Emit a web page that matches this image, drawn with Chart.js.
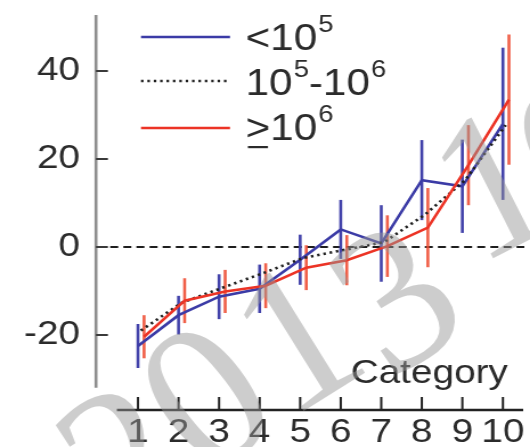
<!DOCTYPE html>
<html>
<head>
<meta charset="utf-8">
<script src="https://cdn.jsdelivr.net/npm/chart.js@4/dist/chart.umd.min.js"></script>
<style>
  html, body { margin: 0; padding: 0; background: #fff; overflow: hidden; }
  #wrap { width: 465px; height: 447px; transform-origin: 0 0; transform: scaleX(1.1398); }
  canvas { display: block; }
</style>
</head>
<body>
<div id="wrap"><canvas id="c" width="465" height="447" style="width:465px;height:447px"></canvas></div>
<script>
// Category positions and tick values
const categories = [1, 2, 3, 4, 5, 6, 7, 8, 9, 10];
const yTicks = [-20, 0, 20, 40];

// Group means with their error half-widths
const lowMean  = [-22.5, -15.5, -11.3, -9.5, -2.9, 4.0, 0.8, 15.2, 13.8, 28.0];
const lowErr   = [5.0, 4.4, 5.1, 5.5, 5.7, 6.7, 8.7, 9.1, 10.6, 17.3];
const midMean  = [-19.0, -12.7, -9.3, -6.0, -2.5, -0.7, 1.1, 7.3, 15.2, 27.7];
const highMean = [-20.4, -12.2, -10.1, -8.8, -4.7, -3.0, 0.2, 4.4, 18.6, 33.5];
const highErr  = [4.9, 5.1, 4.9, 5.1, 5.1, 5.7, 7.0, 9.0, 9.1, 14.8];

const labelFont = 'Liberation Sans, Arimo, Arial, Helvetica, sans-serif';
const STRETCH = 530 / 465;

const BLUE = '#3b3ba6', BLUE_ERR = '#4242aa';
const RED = '#ec3325', RED_ERR = 'rgba(238,78,52,0.9)';

const toPoints = (vals, shift) => categories.map((c, i) => ({ x: c + shift, y: vals[i] }));

const decorations = {
  id: 'decorations',
  beforeDatasetsDraw(chart) {
    const { ctx, chartArea, scales: { x, y } } = chart;
    ctx.save();
    // dashed zero line
    ctx.strokeStyle = '#1e1e1e';
    ctx.lineWidth = 2;
    ctx.setLineDash([7, 4.5]);
    const y0 = y.getPixelForValue(0);
    ctx.beginPath();
    ctx.moveTo(chartArea.left + 1, y0);
    ctx.lineTo(chartArea.right + 1, y0);
    ctx.stroke();
    ctx.setLineDash([]);
    // vertical error bars, drawn from the back dataset to the front one
    for (let di = chart.data.datasets.length - 1; di >= 0; di--) {
      const ds = chart.data.datasets[di];
      if (!ds.errors) continue;
      ctx.strokeStyle = ds.errorColor;
      ctx.lineWidth = 2.6;
      ds.data.forEach((p, i) => {
        const px = x.getPixelForValue(p.x);
        ctx.beginPath();
        ctx.moveTo(px, y.getPixelForValue(p.y + ds.errors[i]));
        ctx.lineTo(px, y.getPixelForValue(p.y - ds.errors[i]));
        ctx.stroke();
      });
    }
    ctx.restore();
  },
  afterDatasetsDraw(chart) {
    const { ctx, chartArea, scales: { x, y } } = chart;
    ctx.save();
    // left axis line and inward ticks
    ctx.strokeStyle = '#8e8e8e';
    ctx.lineWidth = 2.6;
    ctx.beginPath();
    ctx.moveTo(chartArea.left, chartArea.top);
    ctx.lineTo(chartArea.left, y.getPixelForValue(-32));
    ctx.stroke();
    ctx.strokeStyle = '#3a3a3a';
    ctx.lineWidth = 2;
    y.ticks.forEach(t => {
      const py = y.getPixelForValue(t.value);
      ctx.beginPath();
      ctx.moveTo(chartArea.left, py);
      ctx.lineTo(chartArea.left + 10.5, py);
      ctx.stroke();
    });
    // bottom axis line and inward ticks
    ctx.strokeStyle = '#222';
    ctx.lineWidth = 2.4;
    ctx.beginPath();
    ctx.moveTo(x.getPixelForValue(0.48), chartArea.bottom);
    ctx.lineTo(chartArea.right, chartArea.bottom);
    ctx.stroke();
    ctx.lineWidth = 2;
    x.ticks.forEach(t => {
      const px = x.getPixelForValue(t.value);
      ctx.beginPath();
      ctx.moveTo(px, chartArea.bottom);
      ctx.lineTo(px, chartArea.bottom - 13);
      ctx.stroke();
    });
    // axis title
    ctx.fillStyle = '#2b2b2b';
    ctx.font = '34px ' + labelFont;
    ctx.textAlign = 'right';
    ctx.textBaseline = 'alphabetic';
    ctx.fillText('Category', x.getPixelForValue(10) + 4.4, chartArea.bottom - 27);

    // legend
    const ds = chart.data.datasets;
    const rows = [
      { set: ds[2], y: 37,  base: 50,  parts: [['<10', 0], ['5', 1]] },
      { set: ds[1], y: 81,  base: 95,  parts: [['10', 0], ['5', 1], ['-10', 0], ['6', 1]] },
      { set: ds[0], y: 128, base: 140, parts: [['>', 0, true], ['10', 0], ['6', 1]] }
    ];
    const x1 = 123.7, x2 = 201.8, tx = 215.5;
    ctx.textAlign = 'left';
    rows.forEach(r => {
      ctx.strokeStyle = r.set.borderColor;
      ctx.lineWidth = r.set.borderWidth;
      ctx.setLineDash(r.set.borderDash || []);
      ctx.beginPath();
      ctx.moveTo(x1, r.y);
      ctx.lineTo(x2, r.y);
      ctx.stroke();
      ctx.setLineDash([]);
      let cx = tx;
      r.parts.forEach(([txt, sup, underline]) => {
        ctx.font = (sup ? '24px ' : '37px ') + labelFont;
        ctx.fillStyle = '#2b2b2b';
        const by = sup ? r.base - 18 : r.base;
        if (sup) cx += 1;
        ctx.fillText(txt, cx, by);
        const w = ctx.measureText(txt).width;
        if (underline) ctx.fillRect(cx + 2, r.base + 6, w - 4, 2.2);
        cx += w;
      });
    });
    ctx.restore();
  },
  afterDraw(chart) {
    // faint rotated stamp across the figure
    const { ctx } = chart;
    const glyphs = [
      ['2', 122, 458, -33],
      ['0', 205, 396, -37],
      ['1', 296, 336, -32],
      ['3', 395, 297, -33],
      ['1', 492, 183, -27],
      ['0', 578, 150, -30]
    ];
    ctx.save();
    ctx.scale(1 / STRETCH, 1);
    ctx.fillStyle = 'rgba(150,150,150,0.48)';
    ctx.font = '205px Liberation Serif, Tinos, Times New Roman, serif';
    ctx.textAlign = 'center';
    ctx.textBaseline = 'alphabetic';
    glyphs.forEach(([ch, gx, gy, a]) => {
      ctx.save();
      ctx.translate(gx, gy);
      ctx.rotate(a * Math.PI / 180);
      ctx.fillText(ch, 0, 0.33 * 205);
      ctx.restore();
    });
    ctx.restore();
  }
};

new Chart(document.getElementById('c'), {
  type: 'line',
  data: {
    datasets: [
      { label: '≥10^6', data: toPoints(highMean, 0.15), errors: highErr, errorColor: RED_ERR,
        borderColor: RED, borderWidth: 2.6, pointRadius: 0, tension: 0, fill: false },
      { label: '10^5-10^6', data: toPoints(midMean, 0.07), borderColor: '#1e1e1e', borderWidth: 2.6,
        borderDash: [2.2, 3.4], pointRadius: 0, tension: 0, fill: false },
      { label: '<10^5', data: toPoints(lowMean, 0), errors: lowErr, errorColor: BLUE_ERR,
        borderColor: BLUE, borderWidth: 2.6, pointRadius: 0, tension: 0, fill: false }
    ]
  },
  options: {
    responsive: false,
    animation: false,
    devicePixelRatio: 1,
    layout: { padding: { top: 15, right: 6, bottom: 0, left: 0 } },
    plugins: { legend: { display: false }, tooltip: { enabled: false } },
    scales: {
      x: {
        type: 'linear', min: -0.036, max: 10.5, bounds: 'data',
        grid: { display: false, drawTicks: false },
        border: { display: false },
        afterBuildTicks: s => { s.ticks = categories.map(v => ({ value: v })); },
        afterFit: s => { s.height = 37; s.paddingLeft = 0; s.paddingRight = 0; },
        ticks: { autoSkip: false, maxRotation: 0, padding: 2, color: '#2b2b2b',
                 font: { size: 34, family: labelFont }, callback: v => String(v) }
      },
      y: {
        type: 'linear', min: -37.05, max: 52.73, bounds: 'data',
        grid: { display: false, drawTicks: false },
        border: { display: false },
        afterBuildTicks: s => { s.ticks = yTicks.map(v => ({ value: v })); },
        afterFit: s => { s.width = 84.2; s.paddingTop = 0; s.paddingBottom = 0; },
        ticks: { padding: 14, color: '#2b2b2b', font: { size: 34, family: labelFont },
                 callback: v => String(v) }
      }
    }
  },
  plugins: [decorations]
});
</script>
</body>
</html>
